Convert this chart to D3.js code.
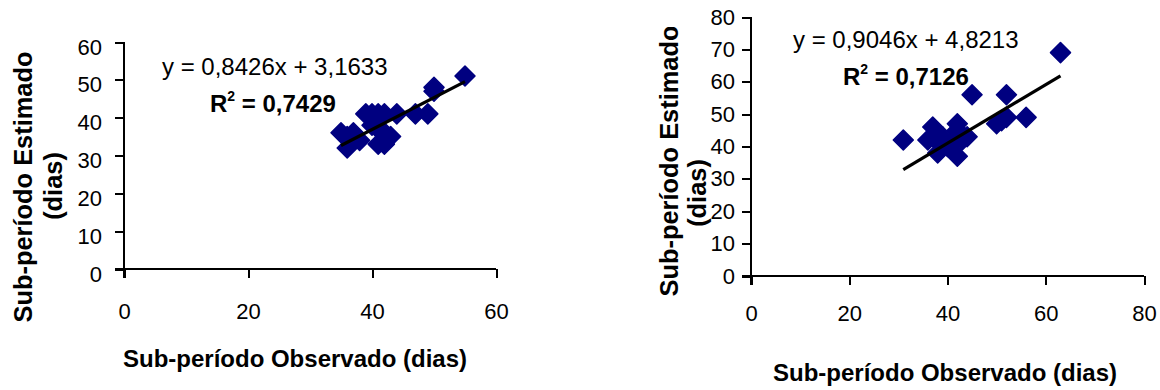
<!DOCTYPE html>
<html lang="pt">
<head>
<meta charset="utf-8">
<title>Sub-período observado x estimado</title>
<script src="https://cdn.jsdelivr.net/npm/d3@7"></script>
<style>
  body { margin: 0; background: #fff; }
  svg { display: block; }
  text { font-family: "Liberation Sans", Arial, sans-serif; fill: #000; }
  .axis path, .axis line { stroke: #000; stroke-width: 2px; shape-rendering: crispEdges; }
  .axis text { font-size: 22px; }
  .titulo { font-size: 24px; font-weight: bold; }
  .tituloy { font-size: 25.4px; font-weight: bold; }
  .eq { font-size: 24px; }
  .r2 { font-size: 24px; font-weight: bold; }
</style>
</head>
<body>
<div id="chart"></div>
<script>
// grafico da esquerda
var obsA = [35, 36, 36, 37, 38, 39, 40, 40, 41, 41, 41, 42, 42, 42, 43, 44, 47, 49, 50, 50, 55];
var estA = [36, 32, 35, 36, 34, 41, 41, 38, 33, 37, 41, 36, 41, 33, 35, 41, 41, 41, 48, 47, 51];
var ticksA = [0, 10, 20, 30, 40, 50, 60];
var ticksAx = [0, 20, 40, 60];
var eqA = "y = 0,8426x + 3,1633";
var r2A = "0,7429";
var coefA = [0.8426, 3.1633];

// grafico da direita
var obsB = [31, 36, 37, 37, 38, 38, 39, 40, 41, 42, 42, 42, 43, 44, 45, 50, 51, 52, 52, 56, 63];
var estB = [42, 42, 46, 43, 38, 42, 43, 40, 41, 47, 45, 37, 42, 43, 56, 47, 48, 49, 56, 49, 69];
var ticksB = [0, 10, 20, 30, 40, 50, 60, 70, 80];
var ticksBx = [0, 20, 40, 60, 80];
var eqB = "y = 0,9046x + 4,8213";
var r2B = "0,7126";
var coefB = [0.9046, 4.8213];

var tituloX = "Sub-período Observado (dias)";
var tituloY1 = "Sub-período Estimado";
var tituloY2 = "(dias)";

var width = 1160, height = 390;

var svg = d3.select("#chart").append("svg")
    .attr("width", width)
    .attr("height", height);

function grafico(cfg, id) {
  var x = d3.scaleLinear().domain([0, cfg.xmax]).range([cfg.x0, cfg.x1]);
  var y = d3.scaleLinear().domain([0, cfg.ymax]).range([cfg.y0, cfg.y1]);
  var g = svg.append("g");

  // o titulo do eixo y fica cortado no topo (como no original)
  svg.append("clipPath").attr("id", "clip" + id)
    .append("rect").attr("x", 0).attr("y", cfg.clipTop).attr("width", width).attr("height", height);

  g.append("text").attr("class", "titulo")
      .attr("x", cfg.tx[0]).attr("y", cfg.tx[1])
      .attr("text-anchor", "middle")
      .text(tituloX);
  var gt = g.append("g").attr("clip-path", "url(#clip" + id + ")");
  gt.append("text").attr("class", "tituloy")
      .attr("transform", "translate(" + cfg.ty1[0] + "," + cfg.ty1[1] + ") rotate(-90)")
      .attr("text-anchor", "middle")
      .text(tituloY1);
  gt.append("text").attr("class", "tituloy")
      .attr("transform", "translate(" + cfg.ty2[0] + "," + cfg.ty2[1] + ") rotate(-90)")
      .attr("text-anchor", "middle")
      .text(tituloY2);

  var ay = g.append("g")
      .attr("class", "axis")
      .attr("transform", "translate(" + cfg.x0 + ",0)")
      .call(d3.axisLeft(y).tickValues(cfg.yticks).tickSize(9).tickSizeOuter(0).tickPadding(cfg.padY));
  ay.selectAll("text").attr("dy", cfg.dyY);

  g.append("g")
      .attr("class", "axis")
      .attr("transform", "translate(0," + cfg.y0 + ")")
      .call(d3.axisBottom(x).tickValues(cfg.xticks).tickSize(9).tickSizeOuter(0).tickPadding(cfg.padX));

  g.selectAll(".axis .domain").remove();
  g.append("line")
      .attr("x1", cfg.x0).attr("x2", cfg.x0).attr("y1", cfg.y1).attr("y2", cfg.y0 + 9)
      .attr("stroke", "#000").attr("stroke-width", 2);
  g.append("line")
      .attr("x1", cfg.x0 - 9).attr("x2", cfg.x1).attr("y1", cfg.y0).attr("y2", cfg.y0)
      .attr("stroke", "#000").attr("stroke-width", 2);

  // pontos
  var diamante = d3.symbol().type(d3.symbolSquare).size(200);
  g.selectAll("path.pt")
    .data(d3.zip(cfg.obs, cfg.est))
    .enter().append("path")
      .attr("class", "pt")
      .attr("d", diamante)
      .attr("transform", function(d) { return "translate(" + x(d[0]) + "," + y(d[1]) + ") rotate(45)"; })
      .attr("fill", "#000080")
      .attr("stroke", "#000080")
      .attr("stroke-width", 1.5)
      .attr("stroke-linejoin", "round");

  // linha de tendencia
  var xr = d3.extent(cfg.obs);
  g.append("line")
      .attr("x1", x(xr[0])).attr("y1", y(cfg.coef[0] * xr[0] + cfg.coef[1]))
      .attr("x2", x(xr[1])).attr("y2", y(cfg.coef[0] * xr[1] + cfg.coef[1]))
      .attr("stroke", "#000").attr("stroke-width", 3.2);

  g.append("text").attr("class", "eq")
      .attr("x", cfg.eqPos[0]).attr("y", cfg.eqPos[1])
      .text(cfg.eq);
  var r = g.append("text").attr("class", "r2")
      .attr("x", cfg.r2Pos[0]).attr("y", cfg.r2Pos[1]);
  r.append("tspan").text("R");
  r.append("tspan").attr("dy", -11).style("font-size", "14px").text("2");
  r.append("tspan").attr("dy", 11).text(" = " + cfg.r2);
}

grafico({
  obs: obsA, est: estA, coef: coefA, eq: eqA, r2: r2A,
  xmax: 60, ymax: 60, xticks: ticksAx, yticks: ticksA,
  x0: 124, x1: 496, y0: 269, y1: 42,
  padY: 13, dyY: "0.55em", padX: 25,
  eqPos: [162, 75], r2Pos: [210, 112],
  tx: [295, 367], ty1: [32, 187], ty2: [62, 186], clipTop: 0
}, "A");

grafico({
  obs: obsB, est: estB, coef: coefB, eq: eqB, r2: r2B,
  xmax: 80, ymax: 80, xticks: ticksBx, yticks: ticksB,
  x0: 751, x1: 1144, y0: 276, y1: 17,
  padY: 7, dyY: "0.32em", padX: 20,
  eqPos: [793, 48], r2Pos: [843, 85],
  tx: [945, 381], ty1: [678, 161], ty2: [706, 193], clipTop: 27
}, "B");
</script>
</body>
</html>
